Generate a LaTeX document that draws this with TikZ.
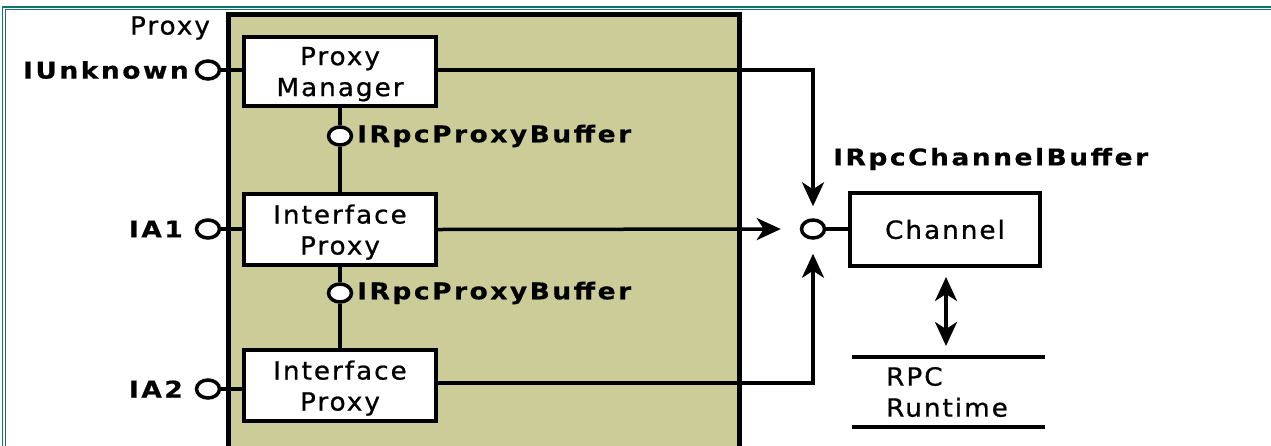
\documentclass[tikz,border=0pt]{standalone}
\usepackage{fontspec}
\usetikzlibrary{arrows.meta,shapes.geometric}
\newfontfamily\plainfont{DejaVu Sans}[FakeStretch=1.05,LetterSpace=8,FakeBold=0.8]
\newfontfamily\ifacefont{DejaVu Sans}[FakeStretch=1.15,LetterSpace=11,FakeBold=0.6]
\definecolor{proxyfill}{HTML}{CCCC99}
\definecolor{frameteal}{HTML}{167070}
\tikzset{
  txt/.style={font=\plainfont\fontsize{25}{31}\selectfont, inner sep=0pt, text=black},
  iface/.style={font=\ifacefont\bfseries\fontsize{23}{26}\selectfont, inner sep=0pt},
  compbox/.style={draw, line width=4pt, fill=white, inner sep=0pt, align=center,
    font=\plainfont\fontsize{25}{31}\selectfont, text=black},
  twoline/.style={text depth=0pt},
  lolly/.style={ellipse, draw, line width=3.5pt, fill=white, inner sep=0pt,
    minimum width=23pt, minimum height=18pt},
  wire/.style={line width=3.5pt},
  tip/.tip={Stealth[length=24pt,width=22pt,inset=7pt]},
  arr/.style={wire, -tip},
  dblarr/.style={wire, tip-tip},
}
\begin{document}
\begin{tikzpicture}[x=1pt,y=-1pt]
  \useasboundingbox (0,0) rectangle (1271,445);
  % page frame (double teal rule)
  \draw[frameteal, line width=1.3pt] (2.5,460) -- (2.5,7) -- (1290,7);
  \draw[frameteal, line width=1.3pt] (5.5,460) -- (5.5,9.8) -- (1290,9.8);

  % proxy container
  \draw[line width=5pt, fill=proxyfill] (228.5,14.5) rectangle (739.5,470);
  \node[txt] (proxylbl) at (170,28) {Proxy};

  % components inside the proxy
  \node[compbox, twoline, minimum width=192pt, minimum height=69pt] (pm) at (340,71.5) {Proxy\\Manager};
  \node[compbox, twoline, minimum width=192pt, minimum height=71pt] (ip1) at (340,229.5) {Interface\\Proxy};
  \node[compbox, twoline, minimum width=192pt, minimum height=71pt] (ip2) at (340,385.5) {Interface\\Proxy};

  % channel and runtime
  \node[compbox, minimum width=190pt, minimum height=73pt] (ch) at (945,229.5) {Channel};
  \coordinate (rt1) at (852,357);
  \coordinate (rt2) at (1045,357);
  \coordinate (rb1) at (852,427);
  \coordinate (rb2) at (1045,427);
  \coordinate (rtop) at (946,357);
  \draw[line width=4pt] (rt1) -- (rt2);
  \draw[line width=4pt] (rb1) -- (rb2);
  \node[txt, anchor=west, align=left] (rpc) at (886,392) {RPC\\Runtime};

  % exposed interfaces
  \node[lolly] (cu) at (208,70) {};
  \node[lolly] (c1) at (208,229) {};
  \node[lolly] (c2) at (208,389) {};
  \node[lolly] (pb1) at (340,136) {};
  \node[lolly] (pb2) at (340,293) {};
  \node[lolly] (cc) at (813,229) {};

  \node[iface, anchor=east] (lu) at (189,70) {IUnknown};
  \node[iface, anchor=east] (l1) at (183,229) {IA1};
  \node[iface, anchor=east] (l2) at (183,389) {IA2};
  \node[iface, anchor=west] (lb1) at (357,136) {IRpcProxyBuffer};
  \node[iface, anchor=west] (lb2) at (357,293) {IRpcProxyBuffer};
  \node[iface, anchor=west] (lcb) at (833,159) {IRpcChannelBuffer};

  % interface stubs
  \draw[wire] (cu.east) -- (pm.west |- cu);
  \draw[wire] (c1.east) -- (ip1.west |- c1);
  \draw[wire] (c2.east) -- (ip2.west |- c2);
  \draw[wire] (pm.south) -- (pb1.north);
  \draw[wire] (pb1.south) -- (ip1.north);
  \draw[wire] (ip1.south) -- (pb2.north);
  \draw[wire] (pb2.south) -- (ip2.north);
  \draw[wire] (cc.east) -- (ch.west |- cc);

  % calls into the channel buffer
  \coordinate (tcorner) at (813,70);
  \coordinate (bcorner) at (813,383);
  \draw[arr, shorten >=12pt] (pm.east |- tcorner) -- (tcorner) -- (cc.north);
  \draw[arr, shorten >=19pt] (ip1.east) -- (cc.west);
  \draw[arr, shorten >=14pt] (ip2.east |- bcorner) -- (bcorner) -- (cc.south);

  % channel <-> runtime
  \draw[dblarr, shorten <=9pt, shorten >=11pt] (ch.south -| rtop) -- (rtop);
\end{tikzpicture}
\end{document}
